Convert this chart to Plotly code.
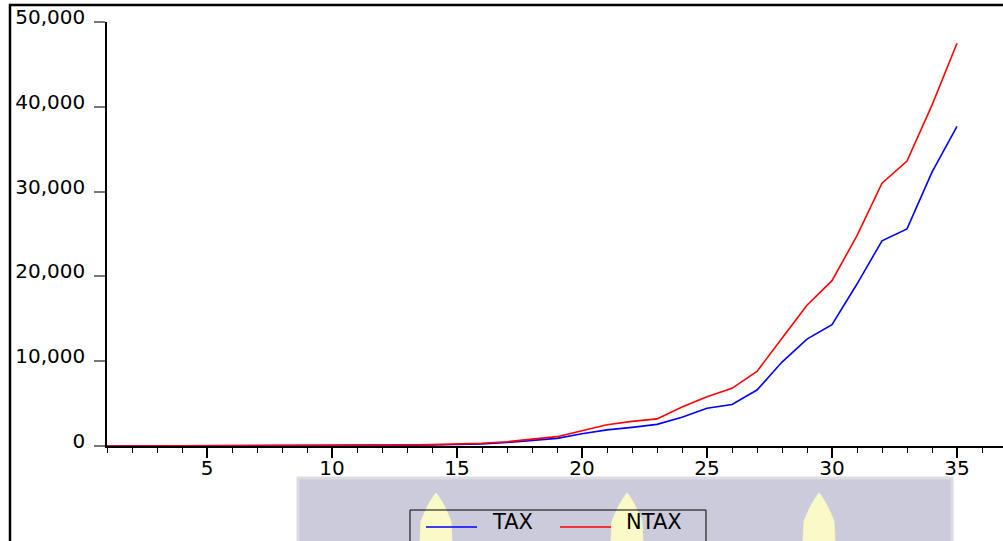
import plotly.graph_objects as go

# ---- data ----
periods = list(range(1, 36))
tax = [4, 6, 8, 11, 15, 19, 25, 32, 40, 50, 62, 78, 98, 125, 170, 240, 420, 650,
       900, 1450, 1900, 2200, 2550, 3400, 4450, 4900, 6600, 9900, 12600, 14300,
       19100, 24200, 25600, 32300, 37700]
ntax = [5, 8, 10, 14, 19, 24, 31, 40, 50, 63, 80, 100, 125, 160, 230, 320, 500, 780,
        1100, 1800, 2500, 2900, 3200, 4600, 5800, 6800, 8800, 12700, 16600, 19500,
        24800, 31000, 33600, 40200, 47500]
series_names = ["TAX", "NTAX"]
series_colors = ["#0000ff", "#ff0000"]
x_tick_vals = [5, 10, 15, 20, 25, 30, 35]
y_tick_vals = [0, 10000, 20000, 30000, 40000, 50000]
y_tick_text = ["0", "10,000", "20,000", "30,000", "40,000", "50,000"]

W, H = 1003, 541
ML, MR, MT, MB = 107, 0, 22, 95
PW, PH = W - ML - MR, H - MT - MB
FONT = "DejaVu Sans"

def px(x):
    return (x - ML) / PW

def py(y):
    return (H - MB - y) / PH

fig = go.Figure()
for name, vals, col in zip(series_names, [tax, ntax], series_colors):
    fig.add_trace(go.Scatter(x=periods, y=vals, mode="lines", name=name,
                             line=dict(color=col, width=1.6), showlegend=False))

shapes = []
# outer frame (extends beyond the visible area)
shapes.append(dict(type="rect", xref="paper", yref="paper",
                   x0=px(10), x1=px(1200), y0=py(700), y1=py(5),
                   line=dict(color="black", width=2.5), fillcolor="rgba(0,0,0,0)"))
# watermark background
shapes.append(dict(type="rect", xref="paper", yref="paper", layer="below",
                   x0=px(298), x1=px(952), y0=py(560), y1=py(478),
                   line=dict(color="#dcdce6", width=3), fillcolor="#cbcbdb"))
for cx in [436, 627, 819]:
    top = 493
    path = (f"M {px(cx)} {py(top)} "
            f"Q {px(cx + 7)} {py(top + 8)} {px(cx + 15)} {py(top + 28)} "
            f"L {px(cx + 17)} {py(560)} L {px(cx - 17)} {py(560)} "
            f"L {px(cx - 15)} {py(top + 28)} "
            f"Q {px(cx - 7)} {py(top + 8)} {px(cx)} {py(top)} Z")
    shapes.append(dict(type="path", xref="paper", yref="paper", layer="below",
                       path=path, line=dict(color="#f4f4c8", width=1),
                       fillcolor="#fafac8"))
# legend box
shapes.append(dict(type="rect", xref="paper", yref="paper",
                   x0=px(410), x1=px(706), y0=py(600), y1=py(510),
                   line=dict(color="black", width=1), fillcolor="rgba(0,0,0,0)"))
# legend samples
for (x0, x1), col in zip([(426, 477), (560, 611)], series_colors):
    shapes.append(dict(type="line", xref="paper", yref="paper",
                       x0=px(x0), x1=px(x1), y0=py(527), y1=py(527),
                       line=dict(color=col, width=1.5)))

annotations = []
for xl, name in zip([490, 624], series_names):
    annotations.append(dict(xref="paper", yref="paper", x=px(xl), y=py(522),
                            xanchor="left", yanchor="middle", showarrow=False,
                            text=name, font=dict(family=FONT, size=21, color="black")))

fig.update_layout(
    width=W, height=H,
    margin=dict(l=ML, r=MR, t=MT, b=MB, autoexpand=False),
    paper_bgcolor="white", plot_bgcolor="white",
    shapes=shapes, annotations=annotations,
    font=dict(family=FONT, size=20, color="black"),
    xaxis=dict(range=[1, 1 + PW / 25.0], showgrid=False, zeroline=False,
               showline=True, linecolor="black", linewidth=2,
               tickmode="array", tickvals=x_tick_vals,
               ticks="outside", ticklen=10, tickwidth=1.5, tickcolor="black",
               minor=dict(dtick=1, tick0=0, ticks="outside", ticklen=5,
                          tickwidth=1.2, tickcolor="black", showgrid=False),
               tickfont=dict(family=FONT, size=20, color="black"),
               ticklabelstandoff=-7),
    yaxis=dict(range=[0, 50000], showgrid=False, zeroline=False,
               showline=True, linecolor="black", linewidth=1.5,
               tickmode="array", tickvals=y_tick_vals, ticktext=y_tick_text,
               ticks="outside", ticklen=11, tickwidth=1.5, tickcolor="#777777",
               tickfont=dict(family=FONT, size=20, color="black"),
               ticklabelstandoff=5, ticklabelshift=-5),
)

fig.write_html("out.html", config={"displayModeBar": False},
               post_script="document.body.style.margin='0';document.body.style.overflow='hidden';")
